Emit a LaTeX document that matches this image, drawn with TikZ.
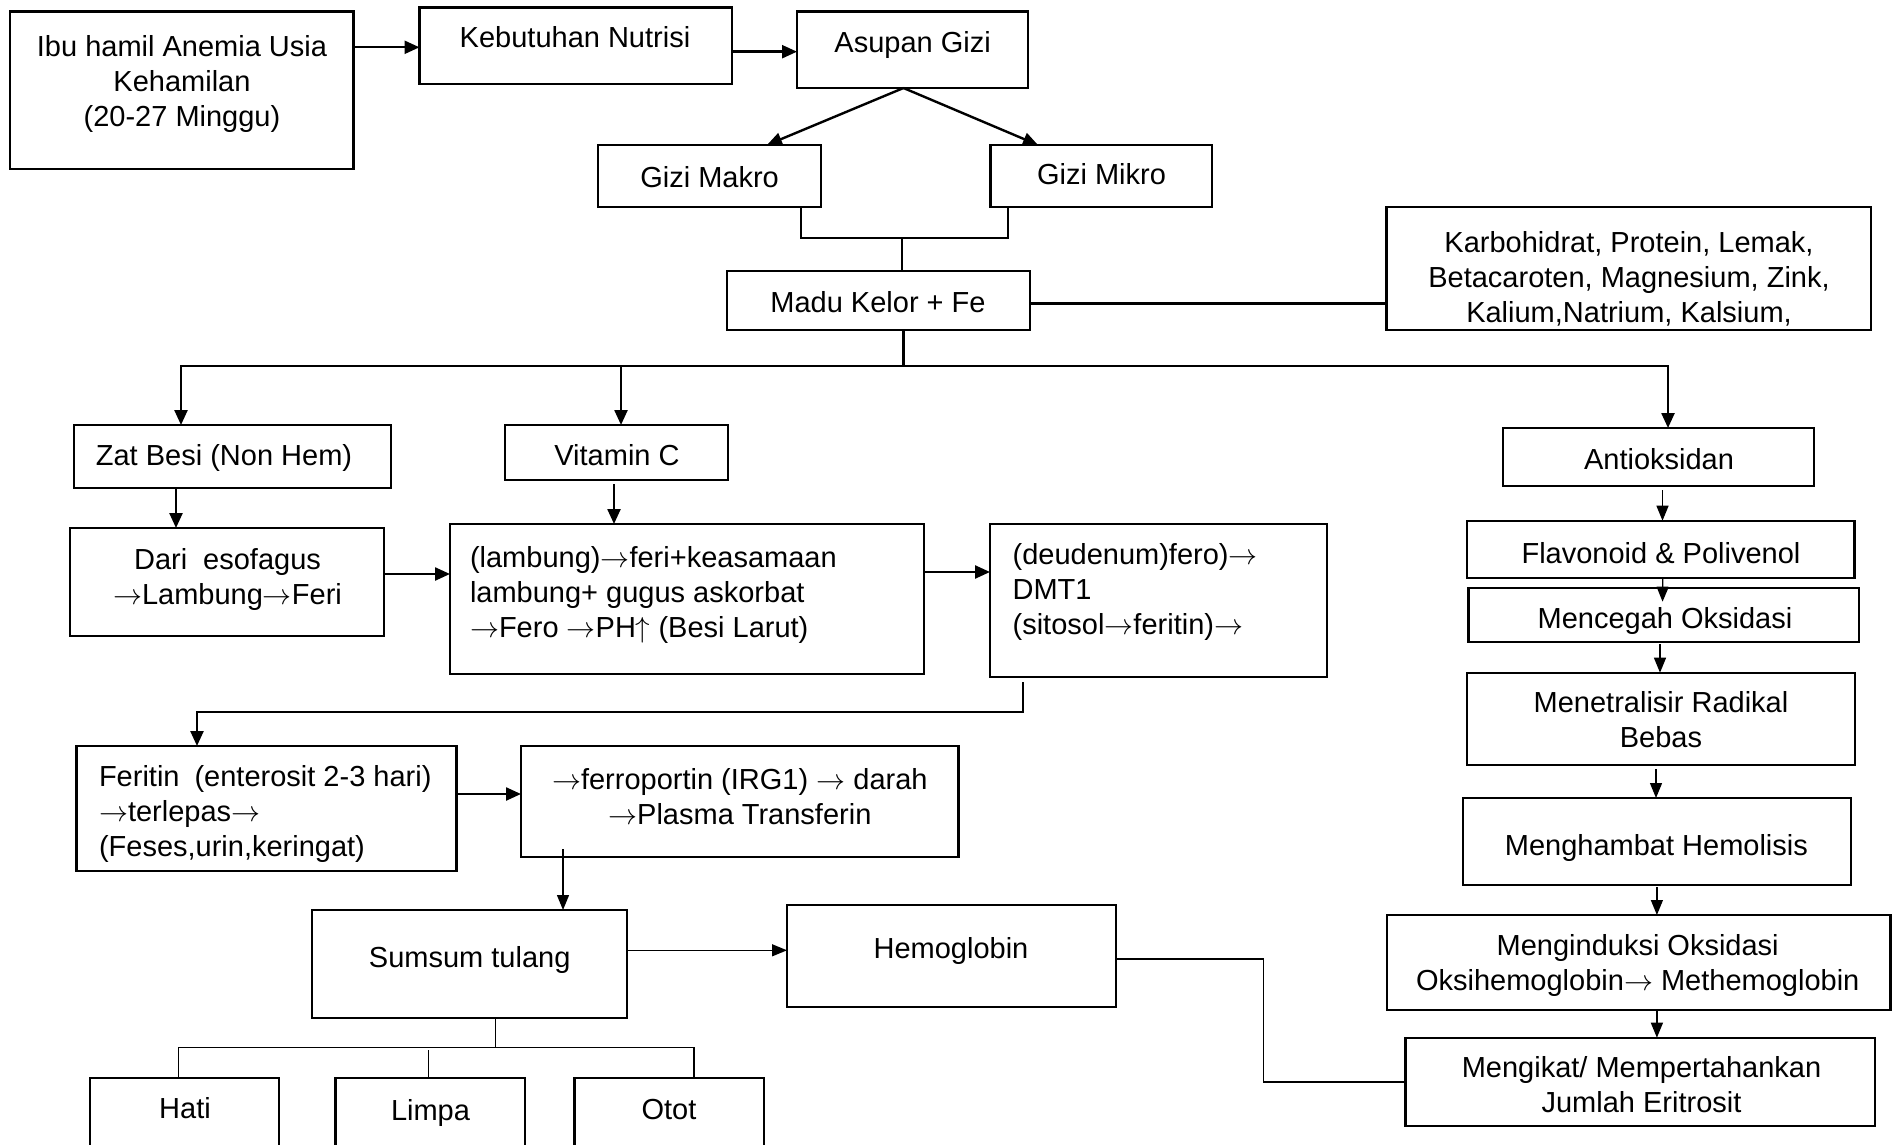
\RequirePackage{fix-cm}
\documentclass[tikz,border=0pt]{standalone}
\usepackage{fontspec}
\setmainfont{Liberation Sans}
\usetikzlibrary{arrows.meta}
\newcommand{\ra}{\ensuremath{\rightarrow}}
\newcommand{\ua}{\ensuremath{\uparrow}}
\tikzset{
  box/.style={draw, line width=2.4pt, rectangle, inner sep=0pt, outer sep=0pt},
  txt/.style={inner sep=0pt, outer sep=0pt, font=\fontsize{29}{35}\selectfont},
  conn/.style={line width=2.4pt},
  thinc/.style={line width=1.3pt},
  arr/.style={conn, -{Triangle[length=15pt,width=13pt]}},
  tarr/.style={thinc, -{Triangle[length=15pt,width=12pt]}},
}
\begin{document}
\begin{tikzpicture}[x=1pt,y=-1pt]
\path[use as bounding box] (0,0) rectangle (1898,1145);
\clip (0,0) rectangle (1898,1145);
% boxes
\node[box, minimum width=343.9, minimum height=157.3] (ibu) at (181.65,90.35) {};
\node[box, minimum width=312.5, minimum height=76.8] (keb) at (575.75,45.9) {};
\node[box, minimum width=231, minimum height=76.3] (asu) at (912.5,49.85) {};
\node[box, minimum width=223, minimum height=62] (makro) at (709.5,176) {};
\node[box, minimum width=221.5, minimum height=62] (mikro) at (1101.25,176) {};
\node[box, minimum width=303, minimum height=59.3] (madu) at (878.5,300.35) {};
\node[box, minimum width=484.4, minimum height=123.3] (karbo) at (1628.8,268.35) {};
\node[box, minimum width=317, minimum height=63] (zat) at (232.5,456.5) {};
\node[box, minimum width=223, minimum height=55] (vitc) at (616.5,452.5) {};
\node[box, minimum width=311, minimum height=58] (anti) at (1658.5,457) {};
\node[box, minimum width=314, minimum height=108] (dari) at (227,582) {};
\node[box, minimum width=474, minimum height=150] (lam) at (687,599) {};
\node[box, minimum width=337, minimum height=153] (deu) at (1158.5,600.5) {};
\node[box, minimum width=387.5, minimum height=57] (flav) at (1660.75,549.2) {};
\node[box, minimum width=390.5, minimum height=53.7] (menc) at (1663.75,614.85) {};
\node[box, minimum width=388, minimum height=92.3] (menet) at (1661,718.85) {};
\node[box, minimum width=388.2, minimum height=87] (mengh) at (1656.9,841.5) {};
\node[box, minimum width=503.6, minimum height=95] (mengin) at (1638.8,962.5) {};
\node[box, minimum width=469.5, minimum height=88.3] (mengik) at (1640.25,1081.85) {};
\node[box, minimum width=380.1, minimum height=125] (fer) at (266.55,808.5) {};
\node[box, minimum width=437.5, minimum height=110.7] (ferro) at (739.75,801.35) {};
\node[box, minimum width=315, minimum height=108] (sum) at (469.5,964) {};
\node[box, minimum width=329, minimum height=101.7] (hemo) at (951.5,955.85) {};
\node[box, minimum width=189, minimum height=92.3] (hati) at (184.5,1123.85) {};
\node[box, minimum width=189.5, minimum height=92.3] (limpa) at (430.25,1123.85) {};
\node[box, minimum width=189.4, minimum height=92.3] (otot) at (669.3,1123.85) {};
% texts
\node[txt, align=center] (ibut) at (182,84) {Ibu hamil Anemia Usia\\Kehamilan\\(20-27 Minggu)};
\node[txt] (kebt) at (575,37) {Kebutuhan Nutrisi};
\node[txt] (asut) at (912.6,44.7) {Asupan Gizi};
\node[txt] (makrot) at (709.6,176.7) {Gizi Makro};
\node[txt] (mikrot) at (1101.5,174.3) {Gizi Mikro};
\node[txt] (madut) at (878,301.7) {Madu Kelor + Fe};
\node[txt, align=center] (karbot) at (1629,279) {Karbohidrat, Protein, Lemak,\\Betacaroten, Magnesium, Zink,\\Kalium,Natrium, Kalsium,};
\node[txt] (zatt) at (224,458) {Zat Besi (Non Hem)};
\node[txt] (vitct) at (617,455) {Vitamin C};
\node[txt] (antit) at (1659,459) {Antioksidan};
\node[txt, align=center] (darit) at (227.5,579) {Dari\hspace{16pt}esofagus\\\ra Lambung\ra Feri};
\node[txt, align=left, anchor=west] (lamt) at (470,594.5) {(lambung)\ra feri+keasamaan\\lambung+ gugus askorbat\\\ra Fero \ra PH\ua{} (Besi Larut)};
\node[txt, align=left, anchor=west] (deut) at (1012.6,592) {(deudenum)fero)\ra\\DMT1\\(sitosol\ra feritin)\ra};
\node[txt] (flavt) at (1661,552.7) {Flavonoid \& Polivenol};
\node[txt] (menct) at (1665,621) {Mencegah Oksidasi};
\node[txt, align=center] (menett) at (1661,720) {Menetralisir Radikal\\Bebas};
\node[txt] (menght) at (1656.4,848) {Menghambat Hemolisis};
\node[txt, align=center] (mengint) at (1637.7,965.4) {Menginduksi Oksidasi\\Oksihemoglobin\ra{} Methemoglobin};
\node[txt, align=center] (mengikt) at (1641.5,1084.7) {Mengikat/ Mempertahankan\\Jumlah Eritrosit};
\node[txt, align=left, anchor=west] (fert) at (99,814) {Feritin\hspace{15pt}(enterosit 2-3 hari)\\\ra terlepas\ra\\(Feses,urin,keringat)};
\node[txt, align=center] (ferrot) at (739.8,797) {\ra ferroportin (IRG1) \ra{} darah\\\ra Plasma Transferin};
\node[txt] (sumt) at (469.7,959.7) {Sumsum tulang};
\node[txt] (hemot) at (951,951) {Hemoglobin};
\node[txt] (hatit) at (185,1108) {Hati};
\node[txt] (limpat) at (430.5,1113) {Limpa};
\node[txt] (ototb) at (669,1110) {Otot};
% connectors
\coordinate (c1) at ([yshift=43.05]ibu.east);
\draw[arr] (c1) -- (c1 -| keb.west);
\coordinate (c2) at ([yshift=-5.8]keb.east);
\draw[arr] (c2) -- (c2 -| asu.west);
\draw[arr] ([xshift=-9]asu.south) -- ([xshift=57.5]makro.north);
\draw[arr] ([xshift=-9]asu.south) -- ([xshift=-63.25]mikro.north);
\draw[conn] ([xshift=91.5]makro.south) -- ++(0,31) -| ([xshift=-93.25]mikro.south);
\draw[conn] ([xshift=23.5]madu.north) -- ++(0,-32.7);
\coordinate (c5) at ([yshift=-3]madu.east);
\draw[conn] (c5) -- (c5 -| karbo.west);
\coordinate (bus) at ([xshift=25,yshift=-36]madu.south);
\draw[conn] ([xshift=25]madu.south) -- (bus);
\draw[arr] (bus) -| ([xshift=-51.5]zat.north);
\draw[arr] (bus) -| ([xshift=9.5]anti.north);
\coordinate (vtop) at ([xshift=4.5]vitc.north);
\draw[arr] (vtop |- bus) -- (vtop);
\coordinate (c7) at ([xshift=-56.5]zat.south);
\draw[arr] (c7) -- (c7 |- dari.north);
\coordinate (c8) at ([xshift=-2.5,yshift=-4]vitc.south);
\draw[arr] (c8) -- (c8 |- lam.north);
\coordinate (c9) at ([yshift=8]dari.east);
\draw[arr] (c9) -- (c9 -| lam.west);
\coordinate (c10) at ([yshift=27]lam.east);
\draw[arr] (c10) -- (c10 -| deu.west);
\draw[arr] ([xshift=-135.5,yshift=-5]deu.south) -- ++(0,30) -| ([xshift=-69.55]fer.north);
\coordinate (c12) at ([yshift=14.5]fer.east);
\draw[arr] (c12) -- (c12 -| ferro.west);
\coordinate (c13) at ([xshift=-176.75,yshift=7.7]ferro.south);
\draw[tarr] (c13) -- (c13 |- sum.north);
\coordinate (c14) at ([yshift=13.7]sum.east);
\draw[tarr] (c14) -- (c14 -| hemo.west);
\coordinate (bus2) at ([xshift=26,yshift=-29.7]sum.south);
\draw[thinc] ([xshift=26]sum.south) -- (bus2);
\draw[thinc] (bus2) -| ([xshift=-5.9]hati.north);
\draw[thinc] (bus2) -| ([xshift=24.7]otot.north);
\draw[thinc] ([xshift=-1.65,yshift=27.7]limpa.north) -- ([xshift=-1.65]limpa.north);
\coordinate (c16) at ([xshift=4,yshift=-4]anti.south);
\draw[tarr] (c16) -- (c16 |- flav.north);
\draw[tarr] ([xshift=2]flav.south) -- ([xshift=-1.2,yshift=-13.7]menc.north);
\coordinate (c18) at ([xshift=-3.75,yshift=-2.3]menc.south);
\draw[tarr] (c18) -- (c18 |- menet.north);
\coordinate (c19) at ([xshift=-5,yshift=-4]menet.south);
\draw[tarr] (c19) -- (c19 |- mengh.north);
\coordinate (c20) at ([yshift=-2]mengh.south);
\draw[tarr] (c20) -- (c20 |- mengin.north);
\coordinate (c21) at (mengin.south -| mengh.south);
\draw[tarr] (c21) -- (c21 |- mengik.north);
\draw[thinc] ([yshift=-3]hemo.east) -- ++(147.5,0) |- (mengik.west);
\end{tikzpicture}
\end{document}
